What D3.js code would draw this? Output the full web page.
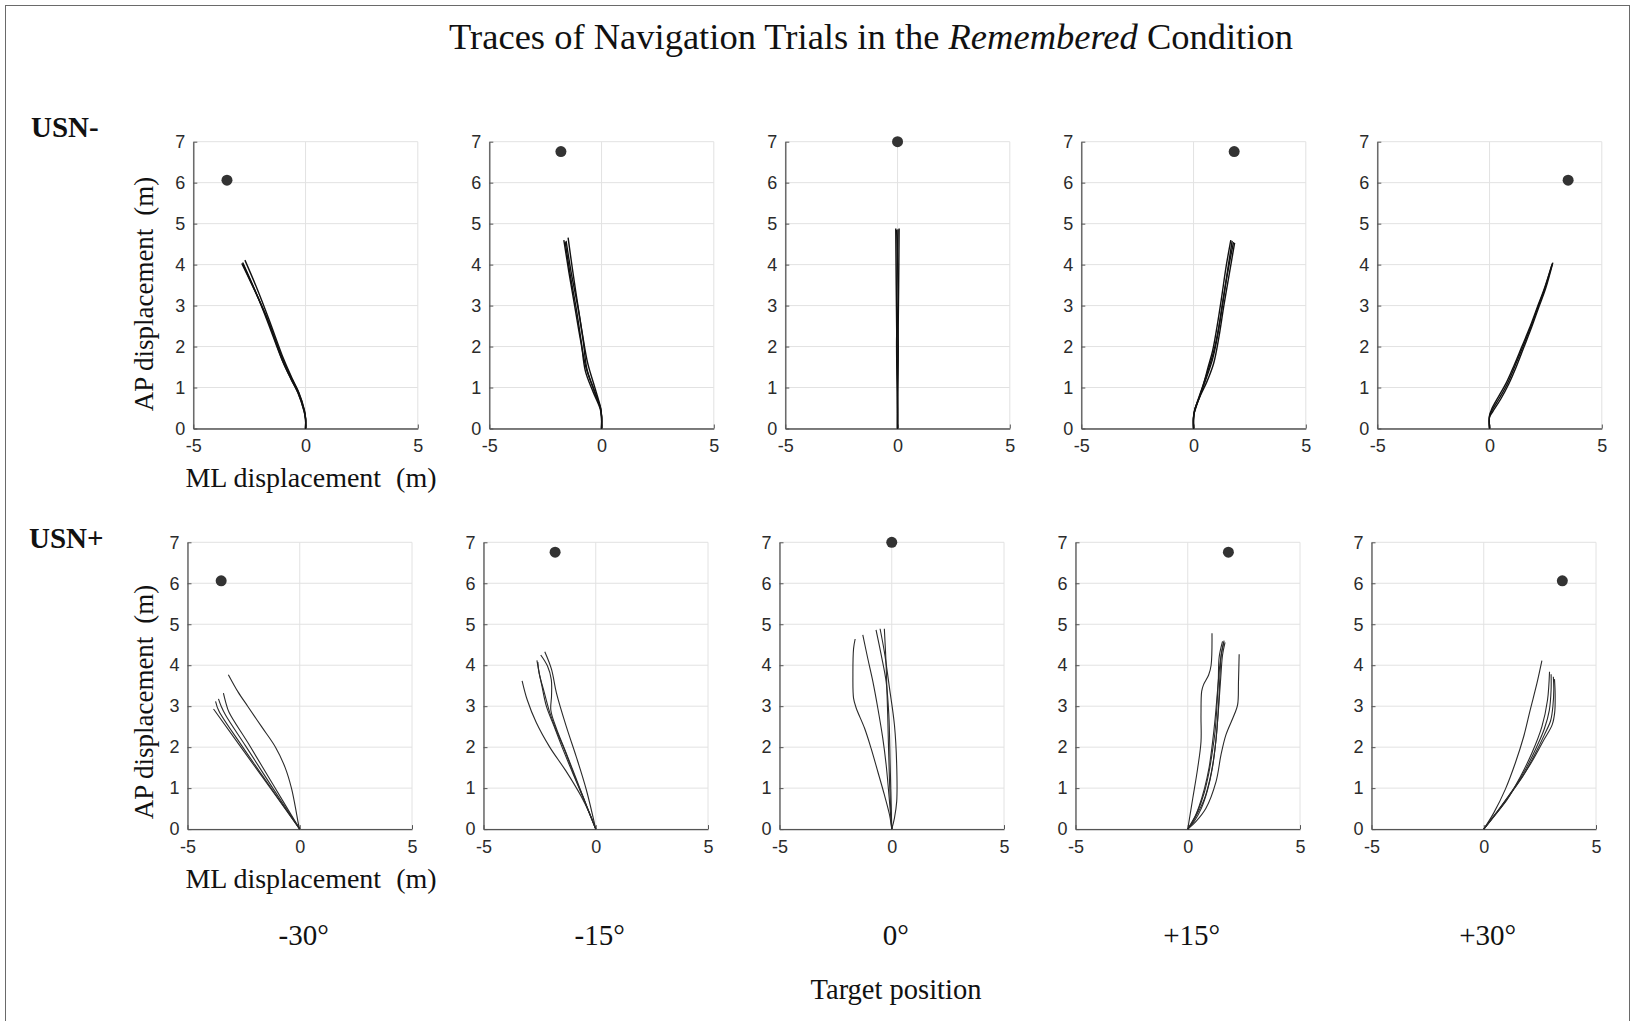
<!DOCTYPE html>
<html>
<head>
<meta charset="utf-8">
<script src="https://cdn.jsdelivr.net/npm/d3@7"></script>
<style>
  body { margin: 0; background: #fff; }
  svg { display: block; }
  .tick text { font-family: "Liberation Sans", Arial, sans-serif; font-size: 18px; fill: #2b2b2b; }
  .serif { font-family: "Liberation Serif", "Times New Roman", serif; fill: #111; }
</style>
</head>
<body>
<svg id="chart" width="1635" height="1021"></svg>
<script>
const rowNames = ['USN-', 'USN+'];
const angleLabels = ['-30°', '-15°', '0°', '+15°', '+30°'];
const targetML = [-3.5, -1.81, 0, 1.81, 3.5];
const targetAP = [6.06, 6.76, 7.0, 6.76, 6.06];
const mlTicks = [-5, 0, 5];
const apTicks = [0, 1, 2, 3, 4, 5, 6, 7];

// USN- traces, one list of [ML, AP] paths per target angle
const tracesUSNminus = [
  [
    [[-2.84, 4.03], [-2.25, 3.35], [-1.68, 2.65], [-1.0, 1.67], [-0.6, 1.2], [-0.32, 0.89], [-0.06, 0.45], [0, 0.25], [0, 0]],
    [[-2.7, 4.11], [-2.15, 3.4], [-1.62, 2.65], [-0.98, 1.7], [-0.58, 1.2], [-0.3, 0.88], [-0.05, 0.45], [0, 0.25], [0, 0]],
    [[-2.78, 4.0], [-2.2, 3.3], [-1.65, 2.6], [-1.02, 1.65], [-0.62, 1.18], [-0.33, 0.86], [-0.07, 0.43], [0, 0.22], [0, 0]],
    [[-2.8, 4.05], [-2.22, 3.33], [-1.7, 2.62], [-1.05, 1.68], [-0.64, 1.2], [-0.34, 0.88], [-0.07, 0.44], [0, 0.24], [0, 0]]
  ],
  [
    [[-1.68, 4.6], [-1.45, 3.8], [-1.2, 3.0], [-0.95, 2.2], [-0.7, 1.5], [-0.35, 0.95], [-0.05, 0.5], [0, 0.3], [0, 0]],
    [[-1.49, 4.66], [-1.3, 3.9], [-1.08, 3.1], [-0.85, 2.3], [-0.62, 1.6], [-0.3, 1.0], [-0.04, 0.5], [0, 0.3], [0, 0]],
    [[-1.62, 4.55], [-1.38, 3.7], [-1.12, 2.9], [-0.9, 2.1], [-0.72, 1.4], [-0.38, 0.9], [-0.06, 0.48], [0, 0.28], [0, 0]],
    [[-1.58, 4.58], [-1.35, 3.8], [-1.05, 2.95], [-0.82, 2.15], [-0.65, 1.45], [-0.32, 0.92], [-0.05, 0.5], [0, 0.3], [0, 0]]
  ],
  [
    [[-0.08, 4.88], [-0.06, 3.5], [-0.03, 2.0], [0, 0.5], [0, 0]],
    [[0.07, 4.88], [0.05, 3.5], [0.02, 2.0], [0, 0.5], [0, 0]],
    [[-0.04, 4.85], [0.03, 3.0], [-0.04, 2.2], [0, 0.5], [0, 0]],
    [[0.02, 4.86], [-0.03, 3.2], [0.03, 2.0], [0, 0.6], [0, 0]]
  ],
  [
    [[1.66, 4.6], [1.45, 3.95], [1.25, 3.2], [1.05, 2.5], [0.85, 1.9], [0.65, 1.5], [0.4, 1.0], [0.1, 0.5], [0, 0.3], [0, 0]],
    [[1.83, 4.53], [1.6, 3.8], [1.35, 3.0], [1.12, 2.2], [0.9, 1.6], [0.6, 1.15], [0.3, 0.8], [0.05, 0.45], [0, 0.25], [0, 0]],
    [[1.78, 4.55], [1.55, 3.9], [1.3, 3.1], [1.08, 2.3], [0.85, 1.7], [0.55, 1.2], [0.25, 0.75], [0.05, 0.45], [0, 0.25], [0, 0]],
    [[1.72, 4.58], [1.5, 3.8], [1.2, 2.7], [0.95, 2.0], [0.75, 1.6], [0.45, 1.1], [0.2, 0.7], [0.04, 0.42], [0, 0.25], [0, 0]]
  ],
  [
    [[2.8, 4.03], [2.45, 3.4], [2.16, 2.97], [1.82, 2.45], [1.48, 1.99], [1.15, 1.55], [0.8, 1.1], [0.45, 0.75], [0.12, 0.45], [0, 0.3], [0, 0]],
    [[2.78, 4.0], [2.43, 3.4], [2.12, 2.95], [1.78, 2.45], [1.44, 2.0], [1.1, 1.55], [0.75, 1.12], [0.4, 0.78], [0.1, 0.48], [0, 0.32], [0, 0]],
    [[2.82, 4.05], [2.5, 3.42], [2.2, 2.97], [1.86, 2.45], [1.52, 1.97], [1.2, 1.52], [0.85, 1.08], [0.5, 0.72], [0.15, 0.42], [0, 0.28], [0, 0]]
  ]
];

// USN+ traces
const tracesUSNplus = [
  [
    [[-3.18, 3.77], [-2.75, 3.35], [-2.32, 3.0], [-1.7, 2.5], [-1.08, 2.0], [-0.65, 1.5], [-0.37, 1.0], [-0.2, 0.55], [-0.05, 0.1], [0, 0]],
    [[-3.84, 2.93], [-1.9, 1.45], [0, 0]],
    [[-3.75, 3.12], [-3.6, 2.88], [-2.6, 2.05], [-1.3, 1.02], [0, 0]],
    [[-3.62, 3.18], [-3.5, 3.0], [-3.3, 2.78], [-2.4, 2.02], [-1.2, 1.0], [0, 0]],
    [[-3.4, 3.32], [-3.3, 3.1], [-3.15, 2.85], [-2.3, 2.1], [-1.15, 1.05], [0, 0]]
  ],
  [
    [[-3.28, 3.62], [-3.05, 3.15], [-2.65, 2.6], [-2.05, 2.0], [-1.33, 1.42], [-0.65, 0.8], [-0.25, 0.35], [0, 0]],
    [[-2.27, 4.33], [-1.97, 3.9], [-1.75, 3.32], [-1.31, 2.5], [-0.87, 1.77], [-0.42, 0.96], [0, 0]],
    [[-2.45, 4.25], [-2.15, 3.98], [-1.98, 3.65], [-1.97, 3.25], [-2.0, 2.9], [-1.75, 2.45], [-1.35, 1.9], [-0.85, 1.2], [-0.4, 0.55], [0, 0]],
    [[-2.62, 4.12], [-2.55, 3.9], [-2.4, 3.5], [-2.2, 3.0], [-1.85, 2.5], [-1.5, 2.0], [-1.05, 1.4], [-0.55, 0.75], [0, 0]],
    [[-2.58, 4.08], [-2.52, 3.8], [-2.3, 3.35], [-2.05, 2.85], [-1.75, 2.4], [-1.4, 1.95], [-0.95, 1.3], [-0.5, 0.7], [0, 0]]
  ],
  [
    [[-1.63, 4.64], [-1.7, 4.41], [-1.73, 3.76], [-1.7, 3.19], [-1.58, 2.95], [-1.21, 2.46], [-0.92, 1.97], [-0.62, 1.4], [-0.33, 0.84], [-0.1, 0.35], [0, 0]],
    [[-1.29, 4.74], [-1.07, 4.17], [-0.84, 3.6], [-0.62, 2.95], [-0.4, 2.22], [-0.25, 1.57], [-0.1, 0.67], [0, 0]],
    [[-0.7, 4.86], [-0.47, 4.25], [-0.25, 3.6], [-0.13, 2.79], [-0.07, 1.57], [0, 0]],
    [[-0.52, 4.89], [-0.33, 4.33], [-0.1, 3.44], [0.12, 2.54], [0.22, 1.57], [0.22, 0.67], [0.12, 0.27], [0, 0]],
    [[-0.33, 4.89], [-0.25, 4.0], [-0.18, 2.79], [-0.1, 1.16], [0, 0]]
  ],
  [
    [[1.08, 4.78], [1.04, 4.0], [0.93, 3.76], [0.7, 3.52], [0.62, 3.36], [0.59, 2.78], [0.59, 2.13], [0.44, 1.48], [0.22, 0.74], [0, 0]],
    [[2.29, 4.27], [2.26, 3.6], [2.22, 3.03], [2.07, 2.79], [1.7, 2.3], [1.48, 1.81], [1.26, 1.16], [0.81, 0.51], [0.37, 0.19], [0, 0]],
    [[1.55, 4.58], [1.4, 4.2], [1.36, 3.6], [1.3, 3.0], [1.22, 2.4], [1.1, 1.9], [0.95, 1.4], [0.74, 0.9], [0.45, 0.45], [0, 0]],
    [[1.62, 4.6], [1.5, 4.3], [1.44, 3.8], [1.37, 3.0], [1.28, 2.3], [1.15, 1.7], [0.98, 1.2], [0.75, 0.75], [0.4, 0.35], [0, 0]],
    [[1.66, 4.56], [1.55, 4.25], [1.47, 3.7], [1.38, 3.0], [1.26, 2.2], [1.1, 1.5], [0.88, 0.95], [0.6, 0.5], [0.3, 0.2], [0, 0]],
    [[1.6, 4.55], [1.45, 4.1], [1.33, 3.4], [1.22, 2.7], [1.1, 2.1], [0.95, 1.5], [0.75, 1.0], [0.5, 0.55], [0.2, 0.15], [0, 0]]
  ],
  [
    [[2.59, 4.11], [2.37, 3.56], [2.07, 2.91], [1.78, 2.26], [1.41, 1.62], [0.96, 0.97], [0.44, 0.39], [0, 0]],
    [[2.93, 3.84], [2.84, 3.15], [2.59, 2.5], [2.14, 1.85], [1.63, 1.28], [1.04, 0.72], [0.44, 0.31], [0, 0]],
    [[3.0, 3.78], [3.0, 3.4], [2.92, 2.9], [2.7, 2.45], [2.35, 2.0], [1.9, 1.5], [1.35, 1.0], [0.7, 0.5], [0, 0]],
    [[3.1, 3.72], [3.12, 3.4], [3.08, 3.0], [2.98, 2.65], [2.7, 2.3], [2.3, 1.85], [1.75, 1.3], [1.1, 0.8], [0.5, 0.35], [0, 0]],
    [[3.15, 3.66], [3.18, 3.3], [3.16, 2.85], [3.05, 2.55], [2.65, 2.15], [2.15, 1.65], [1.5, 1.1], [0.8, 0.55], [0, 0]]
  ]
];

const traces = [tracesUSNminus, tracesUSNplus];

// layout
const rowTop = [141.7, 542.3];
const rowLeft = [193.3, 187.5];
const colStep = 296;
const panelW = 224.5;
const panelH = 286.8;

const svg = d3.select('#chart');

svg.append('rect').attr('x', 5.5).attr('y', 5.5).attr('width', 1624).attr('height', 1040)
  .attr('fill', 'none').attr('stroke', '#6a6a6a').attr('stroke-width', 1);

const title = svg.append('text').attr('class', 'serif').attr('x', 871).attr('y', 49)
  .attr('text-anchor', 'middle').style('font-size', '36.5px');
title.append('tspan').text('Traces of Navigation Trials in the ');
title.append('tspan').attr('font-style', 'italic').text('Remembered');
title.append('tspan').text(' Condition');

const x = d3.scaleLinear().domain([-5, 5]).range([0, panelW]);
const y = d3.scaleLinear().domain([0, 7]).range([panelH, 0]);
const line = d3.line().x(d => x(d[0])).y(d => y(d[1])).curve(d3.curveCatmullRom.alpha(0.5));

rowNames.forEach((name, r) => {
  svg.append('text').attr('class', 'serif').attr('x', r === 0 ? 31 : 29).attr('y', r === 0 ? 137 : 548)
    .attr('font-weight', 'bold').style('font-size', '29px').text(name);

  angleLabels.forEach((lab, c) => {
    const g = svg.append('g').attr('transform', `translate(${rowLeft[r] + c * colStep},${rowTop[r]})`);

    // grid
    g.append('g').selectAll('line').data(mlTicks).join('line')
      .attr('x1', d => x(d)).attr('x2', d => x(d)).attr('y1', 0).attr('y2', panelH)
      .attr('stroke', '#e2e2e2').attr('stroke-width', 1);
    g.append('g').selectAll('line').data(apTicks).join('line')
      .attr('x1', 0).attr('x2', panelW).attr('y1', d => y(d)).attr('y2', d => y(d))
      .attr('stroke', '#e2e2e2').attr('stroke-width', 1);

    // axes
    const xAxis = g.append('g').attr('transform', `translate(0,${panelH})`)
      .call(d3.axisBottom(x).tickValues(mlTicks).tickFormat(d => String(d))
        .tickSizeInner(-4).tickSizeOuter(0).tickPadding(11));
    const yAxis = g.append('g')
      .call(d3.axisLeft(y).tickValues(apTicks).tickFormat(d => String(d))
        .tickSizeInner(-4).tickSizeOuter(0).tickPadding(8));
    [xAxis, yAxis].forEach(a => {
      a.attr('font-family', null).attr('font-size', null);
      a.select('.domain').attr('stroke', '#555').attr('stroke-width', 1.3);
      a.selectAll('.tick line').attr('stroke', '#555');
    });

    // traces
    g.append('g').selectAll('path').data(traces[r][c]).join('path')
      .attr('d', line).attr('fill', 'none')
      .attr('stroke', r === 0 ? '#111' : '#2a2a2a')
      .attr('stroke-width', r === 0 ? 1.4 : 1.1);

    // target
    g.append('circle').attr('cx', x(targetML[c])).attr('cy', y(targetAP[c])).attr('r', 5.5)
      .attr('fill', '#333');

    // axis labels on the first column only
    if (c === 0) {
      const ml = g.append('text').attr('class', 'serif').attr('x', 311 - rowLeft[r]).attr('y', panelH + 59)
        .attr('text-anchor', 'middle').style('font-size', '28px');
      ml.append('tspan').text('ML displacement');
      ml.append('tspan').attr('dx', 15).text('(m)');

      const cy = (r === 0 ? 294 : 702) - rowTop[r];
      const ap = g.append('text').attr('class', 'serif')
        .attr('transform', `translate(${153 - rowLeft[r]},${cy}) rotate(-90)`)
        .attr('text-anchor', 'middle').style('font-size', '27px');
      ap.append('tspan').text('AP displacement');
      ap.append('tspan').attr('dx', 13).text('(m)');
    }
  });
});

// column labels
svg.append('g').selectAll('text').data(angleLabels).join('text')
  .attr('class', 'serif').attr('x', (d, i) => rowLeft[1] + i * colStep + panelW / 2 + 4).attr('y', 945)
  .attr('text-anchor', 'middle').style('font-size', '29px').text(d => d);

svg.append('text').attr('class', 'serif').attr('x', 896).attr('y', 999)
  .attr('text-anchor', 'middle').style('font-size', '28.5px').text('Target position');
</script>
</body>
</html>
